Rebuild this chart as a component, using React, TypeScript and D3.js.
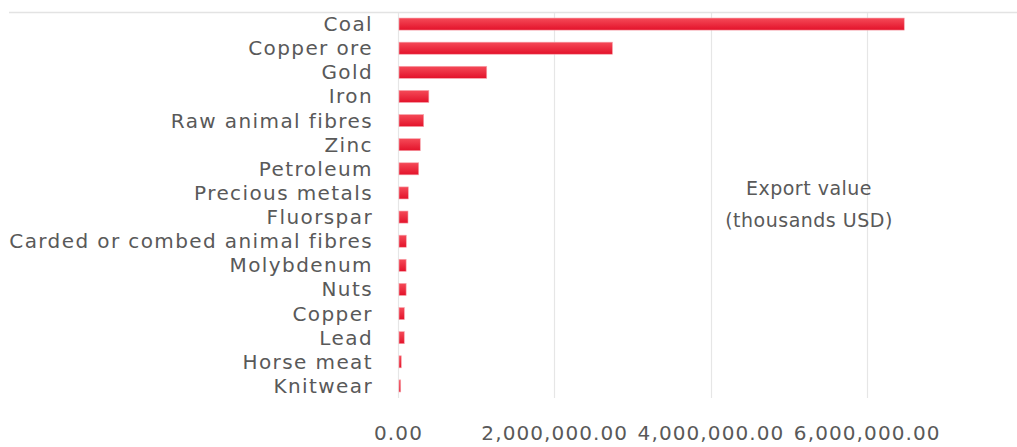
import React from "react";
import * as d3 from "d3";

const categories = [
  "Coal",
  "Copper ore",
  "Gold",
  "Iron",
  "Raw animal fibres",
  "Zinc",
  "Petroleum",
  "Precious metals",
  "Fluorspar",
  "Carded or combed animal fibres",
  "Molybdenum",
  "Nuts",
  "Copper",
  "Lead",
  "Horse meat",
  "Knitwear",
];

// Export value, thousands USD
const values = [
  6480000, 2745000, 1136000, 395000, 329000, 285000, 265000, 132000, 128000,
  106000, 104000, 104000, 81000, 80000, 42000, 35000,
];

const xTicks = [0, 2000000, 4000000, 6000000];
const annotation = ["Export value", "(thousands USD)"];

const W = 1017;
const H = 447;
const FONT = "'DejaVu Sans', 'Open Sans', sans-serif";
const TEXT = "#595959";

export default function App() {
  const x = d3.scaleLinear().domain([0, 8000000]).range([398, 1023]);
  const y = d3
    .scaleBand<string>()
    .domain(categories)
    .range([12, 398])
    .paddingInner(0.5)
    .paddingOuter(0.25);
  const fmt = d3.format(",.2f");

  return (
    <svg
      width={W}
      height={H}
      style={{ position: "absolute", left: 0, top: 0, background: "#fff" }}
      fontFamily={FONT}
    >
      <defs>
        <linearGradient id="barGrad" x1="0" y1="0" x2="0" y2="1">
          <stop offset="0%" stopColor="#f54a58" />
          <stop offset="100%" stopColor="#e3122a" />
        </linearGradient>
      </defs>
      {/* top border line */}
      <line x1={9} x2={W} y1={12.5} y2={12.5} stroke="#e3e3e3" strokeWidth={1.5} />
      {/* gridlines */}
      {xTicks.map((t) => (
        <line
          key={t}
          x1={Math.round(x(t)) + 0.5}
          x2={Math.round(x(t)) + 0.5}
          y1={13}
          y2={398}
          stroke="#e6e6e6"
          strokeWidth={1.2}
        />
      ))}
      {/* bars */}
      {categories.map((c, i) => (
        <rect
          key={c}
          x={x(0) + 1}
          y={y(c)!}
          width={Math.max(1, x(values[i]) - x(0) - 1)}
          height={y.bandwidth()}
          fill="url(#barGrad)"
          stroke="#f7a5ad"
          strokeWidth={0.6}
        />
      ))}
      {/* category labels */}
      {categories.map((c) => (
        <text
          key={c}
          x={373}
          y={y(c)! + y.bandwidth() / 2}
          textAnchor="end"
          dominantBaseline="central"
          fontSize={20}
          letterSpacing={1.4}
          fill={TEXT}
        >
          {c}
        </text>
      ))}
      {/* x tick labels */}
      {xTicks.map((t) => (
        <text
          key={t}
          x={x(t) + 0.5}
          y={440}
          textAnchor="middle"
          fontSize={20}
          letterSpacing={1.1}
          fill={TEXT}
        >
          {fmt(t)}
        </text>
      ))}
      {/* annotation */}
      {annotation.map((s, i) => (
        <text
          key={s}
          x={809}
          y={195 + i * 32}
          textAnchor="middle"
          fontSize={19}
          letterSpacing={0.5}
          fill={TEXT}
        >
          {s}
        </text>
      ))}
    </svg>
  );
}
